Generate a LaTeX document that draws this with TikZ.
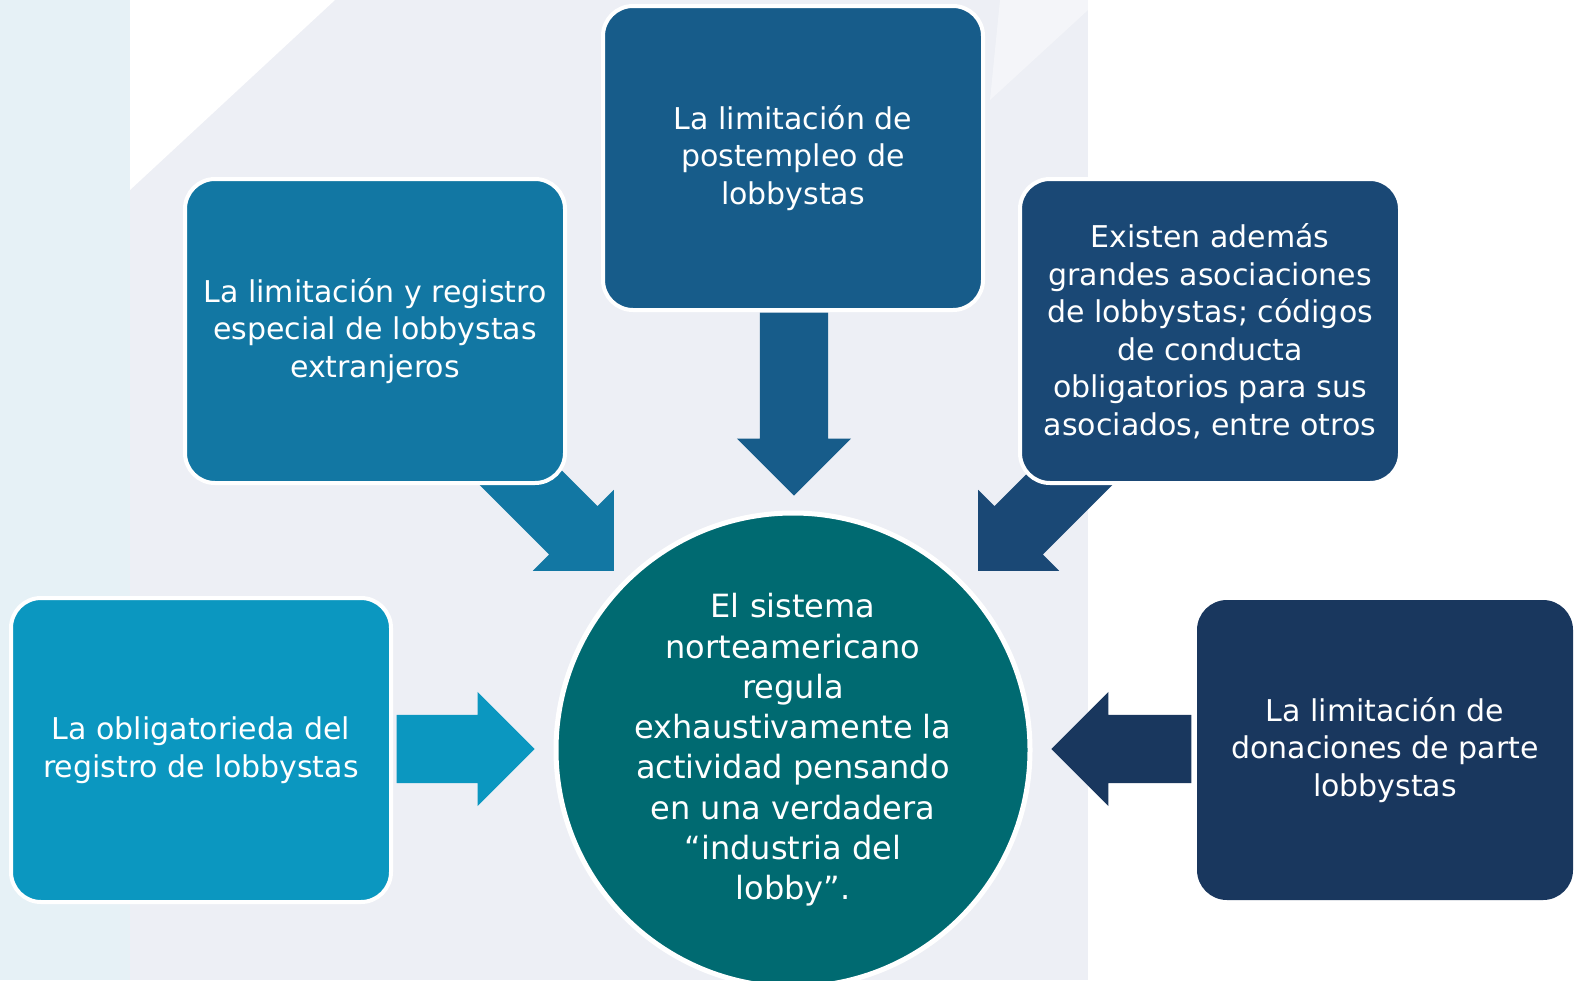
\documentclass[tikz,border=0pt]{standalone}
\usepackage{fontspec}
\setmainfont{DejaVu Sans}
\usetikzlibrary{shapes.arrows}

\definecolor{bgGray}{HTML}{EDEFF5}
\definecolor{bgCyan}{HTML}{E6F1F6}
\definecolor{cTop}{HTML}{175C8A}
\definecolor{cLeftUp}{HTML}{1277A3}
\definecolor{cRightUp}{HTML}{1A4875}
\definecolor{cLeftDown}{HTML}{0B97C0}
\definecolor{cRightDown}{HTML}{19375E}
\definecolor{cCenter}{HTML}{006A71}

\tikzset{
  box/.style={rectangle, rounded corners=30pt, draw=white, line width=4pt,
    text=white, align=center, inner sep=0pt,
    font=\fontsize{30}{37.5}\selectfont,
    minimum width=380pt, minimum height=304pt},
  blockarrow/.style={single arrow, draw=none, inner xsep=0pt, inner ysep=34pt,
    single arrow head extend=23pt, anchor=tip}
}

\begin{document}
\begin{tikzpicture}[x=1pt, y=-1pt]
    % background
    \fill[white] (0,0) rectangle (1574,980);
    \fill[bgGray] (130,0) rectangle (1088,980);
    \fill[bgCyan] (0,0) rectangle (130,980);
    \fill[white] (130,0) -- (335,0) -- (130,190) -- cycle;
    \fill[white, opacity=0.4] (1000,0) -- (1088,0) -- (1088,10) -- (990,100) -- cycle;
    \useasboundingbox (0,0) rectangle (1574,980);

    % arrows (behind the boxes), placed by their tips
    \node[blockarrow, fill=cTop, minimum height=183pt, rotate=-90] (arrTop) at (794,496) {};
    \node[blockarrow, fill=cLeftUp, minimum height=161pt, rotate=-45] (arrLeftUp) at (614,571) {};
    \node[blockarrow, fill=cRightUp, minimum height=161pt, rotate=-135] (arrRightUp) at (978,571) {};
    \node[blockarrow, fill=cLeftDown, minimum height=138pt] (arrLeftDown) at (535,749) {};
    \node[blockarrow, fill=cRightDown, minimum height=140pt, rotate=180] (arrRightDown) at (1051,749) {};

    % boxes
    \node[box, fill=cTop] (postempleo) at (793,158) {La limitación de\\postempleo de\\lobbystas};
    \node[box, fill=cLeftUp] (extranjeros) at (375,331) {La limitación y registro\\especial de lobbystas\\extranjeros};
    \node[box, fill=cRightUp] (asociaciones) at (1210,331) {Existen además\\grandes asociaciones\\de lobbystas; códigos\\de conducta\\obligatorios para sus\\asociados, entre otros};
    \node[box, fill=cLeftDown] (registro) at (201,750) {La obligatorieda del\\registro de lobbystas};
    \node[box, fill=cRightDown, draw=none, minimum width=376pt, minimum height=300pt] (donaciones) at (1385,750) {La limitación de\\donaciones de parte\\lobbystas};

    % centre
    \node[circle, draw=white, line width=5pt, fill=cCenter, text=white, align=center,
        minimum size=474pt, inner sep=0pt, font=\fontsize{32}{40.3}\selectfont] (sistema) at (793,750)
        {El sistema\\norteamericano\\regula\\exhaustivamente la\\actividad pensando\\en una verdadera\\“industria del\\lobby”.};
\end{tikzpicture}
\end{document}
